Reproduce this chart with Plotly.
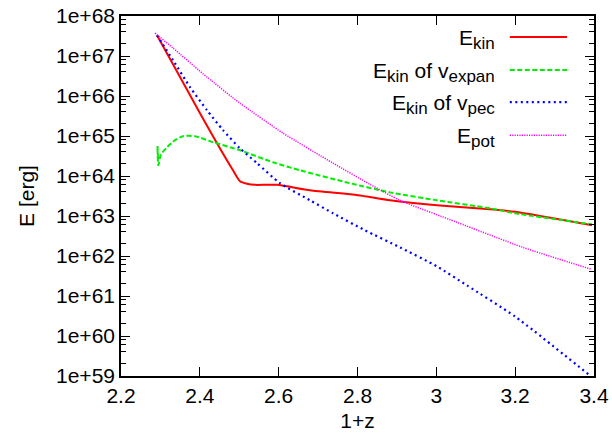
import plotly.graph_objects as go

# 1+z sample points and energies [erg] for each component
z_kin = [2.2913, 2.4004, 2.4435, 2.4841, 2.5019, 2.5196, 2.5399, 2.5957,
         2.6795, 2.8012, 2.8824, 3.0016, 3.1361, 3.1995, 3.3949]
e_kin = [3.3e67, 3.7e65, 6.6e64, 1.39e64, 7.4e63, 6.4e63, 6.0e63, 6.0e63,
         4.4e63, 3.3e63, 2.47e63, 1.85e63, 1.47e63, 1.27e63, 5.85e62]

z_expan = [2.2939, 2.2926, 2.2946, 2.3015, 2.3167, 2.3370, 2.3573, 2.3877,
           2.4334, 2.5019, 2.5856, 2.6541, 2.7809, 2.8824, 3.0016, 3.1361,
           3.1995, 3.3949]
e_expan = [2.8e64, 5.6e64, 1.86e64, 3.5e64, 5.2e64, 7.9e64, 9.9e64, 9.9e64,
           7.0e64, 4.4e64, 2.2e64, 1.39e64, 6.6e63, 3.9e63, 2.47e63, 1.56e63,
           1.17e63, 6.2e62]

z_pec = [2.2913, 2.3319, 2.3750, 2.4182, 2.4588, 2.5019, 2.5450, 2.6034,
         2.6795, 2.7378, 2.8190, 2.9078, 3.0016, 3.0777, 3.1995, 3.3897]
e_pec = [3.3e67, 7.9e66, 1.67e66, 4.4e65, 1.4e65, 4.9e64, 2.1e64, 6.6e63,
         2.47e63, 1.17e63, 4.39e62, 1.64e62, 5.5e61, 1.84e61, 3.08e60, 1.03e59]

z_pot = [2.2862, 2.3319, 2.4182, 2.5019, 2.6110, 2.7378, 2.8317, 2.9078,
         3.0524, 3.2198, 3.3949]
e_pot = [3.75e67, 1.58e67, 2.97e66, 6.6e65, 1.18e65, 2.1e64, 6.2e63, 2.47e63,
         6.95e62, 1.64e62, 4.6e61]

x_ticks = [2.2, 2.4, 2.6, 2.8, 3.0, 3.2, 3.4]
x_labels = ["2.2", "2.4", "2.6", "2.8", "3", "3.2", "3.4"]
y_exps = list(range(59, 69))
y_labels = ["1e+%d" % e for e in y_exps]


def sub(t):
    return "<sub><span style='font-size:17px'>%s</span></sub>" % t


labels = ["E" + sub("kin"), "E" + sub("kin") + " of v" + sub("expan"),
          "E" + sub("kin") + " of v" + sub("pec"), "E" + sub("pot")]
colors = ["#ff0000", "#00ee00", "#0000ff", "#ff00ff"]
dashes = ["solid", "5px,2.5px", "2px,3.5px", "1.2px,1.2px"]
widths = [2, 2, 2.2, 1.5]

series = [(z_kin, e_kin), (z_expan, e_expan), (z_pec, e_pec), (z_pot, e_pot)]

fig = go.Figure()
for (xs, ys), c, d, w in zip(series, colors, dashes, widths):
    fig.add_trace(go.Scatter(x=xs, y=ys, mode="lines",
                             line=dict(color=c, dash=d, width=w, shape="spline",
                                       smoothing=0.6),
                             showlegend=False))

font = dict(family="Liberation Sans, Arial, sans-serif", size=21, color="black")

# key: right-aligned labels with line samples to their right
key_y = [0.9416, 0.8498, 0.7608, 0.669]
for lab, c, d, w, ky in zip(labels, colors, dashes, widths, key_y):
    fig.add_shape(type="line", xref="paper", yref="paper",
                  x0=0.822, x1=0.943, y0=ky, y1=ky,
                  line=dict(color=c, dash=d, width=w))
    fig.add_annotation(xref="paper", yref="paper", x=0.795, y=ky - 0.006,
                       text=lab, showarrow=False, xanchor="right",
                       yanchor="middle", font=font)

minor_vals = []
for e in range(59, 68):
    for m in (2, 4, 6, 8):
        minor_vals.append(m * 10.0 ** e)

fig.update_xaxes(range=[2.2, 3.4], tickvals=x_ticks, ticktext=x_labels,
                 ticks="inside", ticklen=9, tickwidth=1.2, tickcolor="black",
                 showline=True, linecolor="black", linewidth=1.6, mirror="ticks",
                 showgrid=False, zeroline=False, tickfont=font, automargin=False,
                 title=dict(text="1+z", font=font, standoff=7))
fig.update_yaxes(type="log", range=[59, 68],
                 tickvals=[10.0 ** e for e in y_exps], ticktext=y_labels,
                 ticks="inside", ticklen=9, tickwidth=1.2, tickcolor="black",
                 minor=dict(tickvals=minor_vals, ticks="inside", ticklen=5,
                            tickwidth=1, tickcolor="black", showgrid=False),
                 showline=True, linecolor="black", linewidth=1.6, mirror="ticks",
                 showgrid=False, zeroline=False, tickfont=font, automargin=False,
                 title=dict(text="E [erg]", font=font, standoff=16))

fig.update_layout(width=612, height=437, plot_bgcolor="white",
                  paper_bgcolor="white",
                  margin=dict(l=121, r=18, t=16, b=61))

fig.write_html("out.html")
